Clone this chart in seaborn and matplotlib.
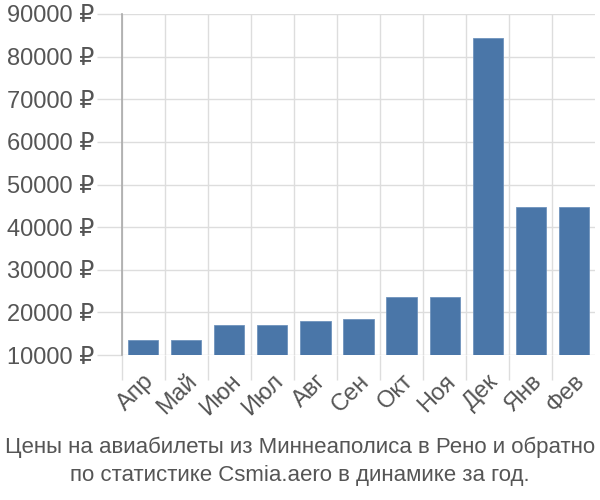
import matplotlib
matplotlib.use("Agg")
import matplotlib.pyplot as plt
import seaborn as sns
import pandas as pd
import numpy as np

months = ["Апр", "Май", "Июн", "Июл", "Авг", "Сен", "Окт", "Ноя", "Дек", "Янв", "Фев"]
prices = [13500, 13500, 17000, 17000, 18000, 18400, 23700, 23700, 84300, 44800, 44800]
yticks = [10000, 20000, 30000, 40000, 50000, 60000, 70000, 80000, 90000]
title_lines = ["Цены на авиабилеты из Миннеаполиса в Рено и обратно",
               "по статистике Csmia.aero в динамике за год."]

sns.set_theme(style="white")
plt.rcParams['font.family'] = ['Liberation Sans', 'DejaVu Sans']

df = pd.DataFrame({"month": months, "price": prices})

fig = plt.figure(figsize=(6, 5), dpi=100)
ax = fig.add_axes([0.203, 0.29, 0.789, 0.682])

sns.barplot(data=df, x="month", y="price", color="#4a76a8", saturation=1,
            width=0.7, edgecolor="#6f93bd", linewidth=0.6, ax=ax, zorder=3)

ax.set_ylim(10000, 90000)
ax.set_xlim(-0.5, len(months) - 0.5)
ax.set_yticks(yticks)
ax.set_yticklabels([f"{v} ₽" for v in yticks])

ax.set_xticks(np.arange(len(months)))
ax.set_xticklabels(months, rotation=45, ha="right", rotation_mode="anchor")
ax.set_xticks(np.arange(len(months)) - 0.5, minor=True)

ax.grid(False)
ax.yaxis.grid(True, color="#dddddd", linewidth=1, zorder=0)
ax.xaxis.grid(True, which="minor", color="#dddddd", linewidth=1, zorder=0)

ax.tick_params(axis="y", which="major", length=18, color="#dddddd", width=1,
               labelsize=17, labelcolor="#555555", pad=2, left=True)
ax.tick_params(axis="x", which="major", length=0, labelsize=17,
               labelcolor="#555555", pad=11)
ax.tick_params(axis="x", which="minor", length=18, color="#dddddd", width=1, bottom=True)

for s in ["top", "right", "bottom"]:
    ax.spines[s].set_visible(False)
ax.spines["left"].set_color("#aaaaaa")
ax.spines["left"].set_linewidth(1.2)

ax.set_xlabel("")
ax.set_ylabel("")

fig.text(0.5, 0.106, title_lines[0], ha="center", va="center", fontsize=16, color="#555555")
fig.text(0.5, 0.048, title_lines[1], ha="center", va="center", fontsize=16, color="#555555")

fig.savefig("out.png", dpi=100)
